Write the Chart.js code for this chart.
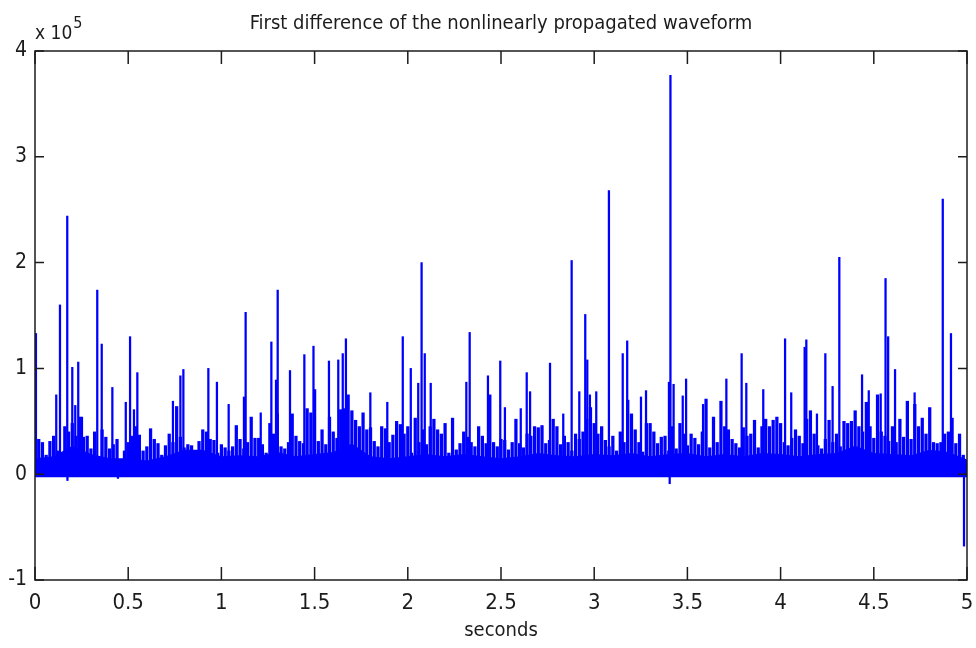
<!DOCTYPE html>
<html>
<head>
<meta charset="utf-8">
<title>First difference of the nonlinearly propagated waveform</title>
<script src="https://cdn.jsdelivr.net/npm/chart.js@4.4.0/dist/chart.umd.min.js"></script>
<style>
    html, body { margin: 0; padding: 0; background: #fff; }
    #wrap { width: 976px; height: 648px; }
</style>
</head>
<body>
<div id="wrap"><canvas id="diffChart" width="976" height="648"></canvas></div>
<script>
// All amplitudes are in units of 1e5 (the "x 10^5" exponent drawn above the axis)
const FONT = '"Liberation Sans Narrow", "Arial Narrow", "DejaVu Sans Condensed", "Liberation Sans", sans-serif';
const INK = '#1c1c1c';
const BLUE = '#0000ff';

const xTicks = [0, 0.5, 1, 1.5, 2, 2.5, 3, 3.5, 4, 4.5, 5];
const xTickLabels = ['0', '0.5', '1', '1.5', '2', '2.5', '3', '3.5', '4', '4.5', '5'];
const yTicks = [-1, 0, 1, 2, 3, 4];
const yTickLabels = ['-1', '0', '1', '2', '3', '4'];

// background comb, one value every 0.02 s (0 .. 5 s)
const combStep = 0.02;
const combValues = [
    0.28, 0.33, 0.30, 0.18, 0.31, 0.36, 0.22, 0.17, 0.45, 0.40, 0.48, 0.36, 0.54, 0.35, 0.36, 0.24, 0.40, 0.16, 0.42, 0.35, 0.24, 0.28, 0.33, 0.10, 0.22,
    0.30, 0.36, 0.45, 0.37, 0.22, 0.26, 0.43, 0.33, 0.29, 0.18, 0.27, 0.38, 0.30, 0.64, 0.35, 0.25, 0.28, 0.27, 0.22, 0.31, 0.42, 0.40, 0.33, 0.32, 0.20,
    0.28, 0.25, 0.22, 0.26, 0.46, 0.33, 0.24, 0.30, 0.54, 0.34, 0.34, 0.28, 0.20, 0.48, 0.38, 0.57, 0.26, 0.24, 0.30, 0.57, 0.36, 0.31, 0.29, 0.62, 0.58,
    0.80, 0.31, 0.42, 0.28, 0.54, 0.40, 0.34, 0.61, 0.62, 0.75, 0.60, 0.51, 0.45, 0.58, 0.42, 0.44, 0.31, 0.26, 0.45, 0.43, 0.30, 0.37, 0.50, 0.47, 0.38,
    0.45, 0.20, 0.53, 0.30, 0.42, 0.28, 0.45, 0.52, 0.42, 0.38, 0.48, 0.20, 0.53, 0.23, 0.29, 0.40, 0.35, 0.30, 0.26, 0.45, 0.36, 0.29, 0.75, 0.30, 0.26,
    0.33, 0.32, 0.23, 0.30, 0.52, 0.29, 0.25, 0.38, 0.36, 0.45, 0.44, 0.46, 0.29, 0.32, 0.52, 0.45, 0.28, 0.36, 0.30, 0.22, 0.38, 0.33, 0.40, 0.52, 0.63,
    0.48, 0.38, 0.45, 0.32, 0.26, 0.36, 0.22, 0.40, 0.30, 0.70, 0.57, 0.42, 0.30, 0.21, 0.48, 0.48, 0.40, 0.29, 0.35, 0.36, 0.22, 0.45, 0.24, 0.48, 0.38,
    0.27, 0.38, 0.34, 0.28, 0.40, 0.71, 0.25, 0.54, 0.30, 0.69, 0.45, 0.42, 0.33, 0.29, 0.25, 0.44, 0.36, 0.38, 0.51, 0.25, 0.45, 0.52, 0.45, 0.51, 0.54,
    0.48, 0.30, 0.27, 0.34, 0.42, 0.36, 0.29, 0.52, 0.60, 0.38, 0.27, 0.24, 0.33, 0.51, 0.30, 0.38, 0.26, 0.50, 0.48, 0.50, 0.60, 0.45, 0.40, 0.68, 0.45,
    0.34, 0.75, 0.40, 0.36, 0.31, 0.45, 0.30, 0.52, 0.35, 0.69, 0.33, 0.66, 0.45, 0.53, 0.38, 0.63, 0.30, 0.29, 0.30, 0.38, 0.40, 0.53, 0.29, 0.38, 0.18,
    0.12
];

// solid band under the comb, one value every 0.1 s
const floorStep = 0.1;
const floorValues = [
    0.15, 0.17, 0.27, 0.19, 0.15, 0.15, 0.13, 0.17, 0.23, 0.23,
    0.17, 0.18, 0.17, 0.21, 0.17, 0.19, 0.21, 0.29, 0.17, 0.15,
    0.17, 0.19, 0.17, 0.19, 0.17, 0.15, 0.17, 0.20, 0.18, 0.17,
    0.19, 0.18, 0.20, 0.17, 0.19, 0.20, 0.17, 0.19, 0.17, 0.20,
    0.19, 0.17, 0.19, 0.20, 0.27, 0.20, 0.19, 0.18, 0.23, 0.21,
    0.14
];

// isolated spikes (seconds, amplitude)
const spikeTimes = [
    0.005, 0.114, 0.134, 0.173, 0.174, 0.200, 0.216, 0.232, 0.252, 0.334, 0.358, 0.415, 0.445, 0.487, 0.510, 0.531, 0.549,
    0.740, 0.780, 0.796, 0.930, 0.976, 1.039, 1.121, 1.130, 1.211, 1.268, 1.293, 1.302, 1.368, 1.445, 1.494, 1.577, 1.627,
    1.651, 1.668, 1.799, 1.890, 1.973, 2.016, 2.056, 2.074, 2.091, 2.123, 2.314, 2.332, 2.430, 2.496, 2.521, 2.606, 2.638,
    2.656, 2.763, 2.834, 2.879, 2.920, 2.952, 2.963, 2.977, 3.011, 3.079, 3.153, 3.177, 3.251, 3.278, 3.401, 3.405, 3.409,
    3.426, 3.475, 3.493, 3.584, 3.709, 3.791, 3.816, 3.907, 4.024, 4.057, 4.129, 4.138, 4.195, 4.240, 4.279, 4.315, 4.437,
    4.473, 4.537, 4.563, 4.577, 4.614, 4.719, 4.870, 4.914, 4.984
];
const spikeValues = [
    1.33, 0.75, 1.60, 2.44, -0.06, 1.01, 0.65, 1.06, 0.54, 1.74, 1.23, 0.82, -0.04, 0.68, 1.30, 0.61, 0.96,
    0.69, 0.93, 0.99, 1.00, 0.87, 0.66, 0.73, 1.53, 0.58, 1.25, 0.89, 1.74, 0.98, 1.13, 1.21, 1.07, 1.08,
    1.14, 1.28, 0.77, 0.68, 1.30, 1.00, 0.86, 2.00, 1.14, 0.86, 0.87, 1.34, 0.93, 1.07, 0.63, 0.62, 0.96,
    0.78, 1.05, 0.57, 2.02, 0.78, 1.51, 1.08, 0.75, 0.78, 2.68, 1.14, 1.26, 0.73, 0.79, 0.87, -0.09, 3.77,
    0.85, 0.74, 0.90, 0.66, 0.90, 1.14, 0.86, 0.80, 1.28, 0.77, 1.20, 1.27, 0.57, 1.14, 0.83, 2.05, 0.94,
    0.79, 0.76, 1.85, 1.30, 0.99, 0.77, 2.60, 1.33, -0.68
];

const combData = combValues.map((v, i) => ({ x: i * combStep, y: v }));
const floorData = floorValues.map((v, i) => ({ x: i * floorStep, y: v }));
const spikeData = spikeTimes.map((t, i) => ({ x: t, y: spikeValues[i] }));

// MATLAB style box, inward ticks and the exponent label
const matlabAxes = {
    id: 'matlabAxes',
    afterDatasetsDraw(chart) {
        const { ctx, chartArea: a, scales: { x, y } } = chart;
        ctx.save();
        ctx.strokeStyle = INK;
        ctx.lineWidth = 1.5;
        ctx.strokeRect(a.left, a.top, a.right - a.left, a.bottom - a.top);
        ctx.beginPath();
        xTicks.forEach(v => {
            const px = x.getPixelForValue(v);
            ctx.moveTo(px, a.bottom); ctx.lineTo(px, a.bottom - 13);
            ctx.moveTo(px, a.top); ctx.lineTo(px, a.top + 13);
        });
        yTicks.forEach(v => {
            const py = y.getPixelForValue(v);
            ctx.moveTo(a.left, py); ctx.lineTo(a.left + 9, py);
            ctx.moveTo(a.right, py); ctx.lineTo(a.right - 9, py);
        });
        ctx.stroke();

        ctx.fillStyle = INK;
        ctx.textBaseline = 'alphabetic';
        ctx.textAlign = 'left';
        ctx.font = '19px ' + FONT;
        ctx.fillText('x 10', a.left, a.top - 12);
        const w = ctx.measureText('x 10').width;
        ctx.font = '16px ' + FONT;
        ctx.fillText('5', a.left + w + 1, a.top - 23);
        ctx.restore();
    }
};

const ctx = document.getElementById('diffChart');
new Chart(ctx, {
    type: 'bar',
    data: {
        datasets: [
            {
                type: 'line',
                data: floorData,
                borderWidth: 0,
                pointRadius: 0,
                backgroundColor: BLUE,
                fill: { value: -0.03 },
                order: 3
            },
            {
                data: combData,
                backgroundColor: BLUE,
                borderWidth: 0,
                barThickness: 2.6,
                grouped: false,
                order: 2
            },
            {
                data: spikeData,
                backgroundColor: BLUE,
                borderWidth: 0,
                barThickness: 1.6,
                grouped: false,
                order: 1
            }
        ]
    },
    options: {
        responsive: false,
        animation: false,
        devicePixelRatio: 1,
        layout: { padding: 0 },
        plugins: {
            legend: { display: false },
            tooltip: { enabled: false },
            title: {
                display: true,
                fullSize: false,
                text: 'First difference of the nonlinearly propagated waveform',
                color: INK,
                font: { family: FONT, size: 20, weight: 'normal' },
                padding: { top: 12, bottom: 15 }
            }
        },
        scales: {
            x: {
                type: 'linear',
                min: 0,
                max: 5,
                offset: false,
                grid: { display: false, drawTicks: false },
                border: { display: false },
                afterBuildTicks: s => { s.ticks = xTicks.map(v => ({ value: v })); },
                afterFit: s => { s.height = 68; s.paddingLeft = 0; s.paddingRight = 9; },
                ticks: {
                    color: INK,
                    padding: 10,
                    maxRotation: 0,
                    autoSkip: false,
                    font: { family: FONT, size: 22 },
                    callback: (v, i) => xTickLabels[i]
                },
                title: {
                    display: true,
                    text: 'seconds',
                    color: INK,
                    font: { family: FONT, size: 20 },
                    padding: { top: 0, bottom: 5 }
                }
            },
            y: {
                min: -1,
                max: 4,
                grid: { display: false, drawTicks: false },
                border: { display: false },
                afterBuildTicks: s => { s.ticks = yTicks.map(v => ({ value: v })); },
                afterFit: s => { s.width = 35; },
                ticks: {
                    color: INK,
                    padding: 8,
                    autoSkip: false,
                    font: { family: FONT, size: 21 },
                    callback: (v, i) => yTickLabels[i]
                }
            }
        }
    },
    plugins: [matlabAxes]
});
</script>
</body>
</html>
